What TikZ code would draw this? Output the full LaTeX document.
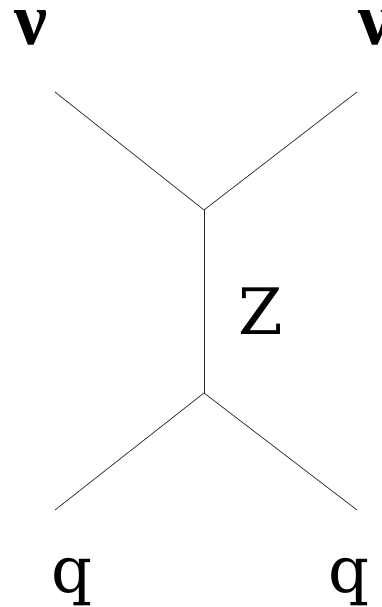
\documentclass[tikz,border=0pt]{standalone}
\usepackage{fontspec}
\setmainfont{DejaVu Serif}
\newfontfamily\nufont{Liberation Serif}
\usetikzlibrary{positioning}

\begin{document}
\begin{tikzpicture}[x=1pt, y=1pt,
  every node/.style={font=\fontsize{64}{70}\selectfont, inner sep=0pt, anchor=base},
  nulabel/.style={font=\fontsize{74}{80}\selectfont\nufont\bfseries},
  leg/.style={line width=0.7pt, black!85}]

  \useasboundingbox (0,0) rectangle (382,607);

  %% Vertices and free ends
  \coordinate (top) at (204,397);
  \coordinate (bot) at (204,214);
  \coordinate (nuL) at (55,515);
  \coordinate (nuR) at (357,515);
  \coordinate (qL) at (55,97);
  \coordinate (qR) at (357,97);

  %% Lines
  \draw[leg] (nuL) -- (top);
  \draw[leg] (nuR) -- (top);
  \draw[leg] (top) -- (bot);
  \draw[leg] (qL) -- (bot);
  \draw[leg] (qR) -- (bot);

  %% Labels
  \node[nulabel] (labnuL) at (31.5,562) {ν};
  \node[nulabel] (labnuR) at (375,562) {ν};
  \node (labZ) at (261,272) {Z};
  \node (labqL) at (72,14) {q};
  \node (labqR) at (349,14) {q};

\end{tikzpicture}
\end{document}
